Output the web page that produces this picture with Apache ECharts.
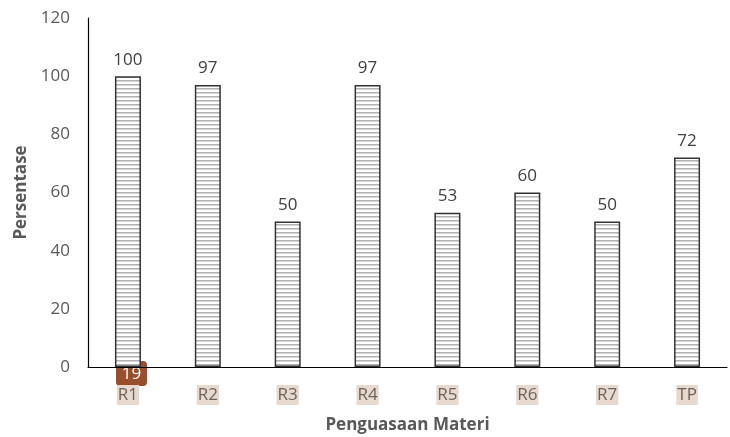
<!DOCTYPE html>
<html><head><meta charset="utf-8">
<script src="https://cdn.jsdelivr.net/npm/echarts@6/dist/echarts.min.js"></script>
<style>html,body{margin:0;padding:0;background:#fff}#c{width:730px;height:437px}</style>
</head><body><div id="c"></div>
<script>
var categories = ['R1','R2','R3','R4','R5','R6','R7','TP'];
var values = [100, 97, 50, 97, 53, 60, 50, 72];
var yTicks = {min: 0, max: 120, interval: 20};

var pc = document.createElement('canvas');
pc.width = 4; pc.height = 4;
var ctx = pc.getContext('2d');
ctx.fillStyle = '#ffffff'; ctx.fillRect(0,0,4,4);
ctx.fillStyle = '#b0b0b0'; ctx.fillRect(0,0,4,1.5);

var chart = echarts.init(document.getElementById('c'));
chart.setOption({
  animation: false,
  grid: {left: 88, right: 3, top: 18, bottom: 70, outerBoundsMode: 'none', containLabel: false},
  xAxis: {
    type: 'category', data: categories,
    axisLine: {lineStyle: {color: '#000', width: 1.2}},
    axisTick: {show: false},
    axisLabel: {color: '#6e625c', fontSize: 17, fontFamily: 'Open Sans', margin: 18,
      backgroundColor: '#e8d9cf', padding: [0, 1, 0, 1], lineHeight: 20},
    name: 'Penguasaan Materi', nameLocation: 'middle', nameGap: 50,
    nameTextStyle: {color: '#595959', fontSize: 17, fontWeight: 'bold', fontFamily: 'Open Sans'}
  },
  yAxis: {
    type: 'value', min: yTicks.min, max: yTicks.max, interval: yTicks.interval,
    splitLine: {show: false},
    axisLine: {show: true, lineStyle: {color: '#000', width: 1.2}},
    axisTick: {show: false},
    axisLabel: {color: '#595959', fontSize: 17, fontFamily: 'Open Sans', margin: 18},
    name: 'Persentase', nameLocation: 'middle', nameGap: 58,
    nameTextStyle: {color: '#595959', fontSize: 17, fontWeight: 'bold', fontFamily: 'Open Sans'}
  },
  series: [{
    type: 'bar', data: values, barWidth: 26,
    itemStyle: {color: {image: pc, repeat: 'repeat'}, borderColor: '#333', borderWidth: 1.5},
    label: {show: true, position: 'top', distance: 8, color: '#404040', fontSize: 17, fontFamily: 'Open Sans'}
  }],
  graphic: [{
    type: 'group', left: 116, top: 361,
    children: [
      {type: 'rect', shape: {x: 0, y: 0, width: 31, height: 25, r: 4}, style: {fill: '#9a4f2c'}},
      {type: 'text', x: 15.5, y: 13, style: {text: '19', fill: '#fff', fontSize: 17, fontFamily: 'Open Sans', align: 'center', verticalAlign: 'middle'}}
    ]
  }]
});
</script></body></html>
